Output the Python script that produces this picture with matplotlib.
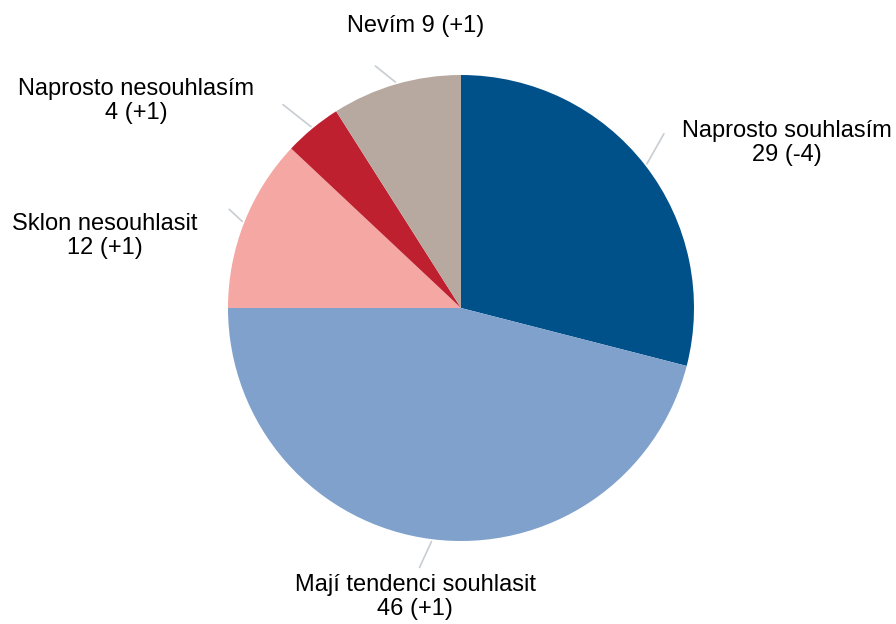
import matplotlib
matplotlib.use("Agg")
import matplotlib.pyplot as plt
import numpy as np

categories = ["Naprosto souhlasím", "Mají tendenci souhlasit", "Sklon nesouhlasit",
              "Naprosto nesouhlasím", "Nevím"]
values = [29, 46, 12, 4, 9]
changes = ["-4", "+1", "+1", "+1", "+1"]
colors = ["#00508A", "#7FA1CC", "#F4A7A3", "#BE2030", "#B8A9A0"]

plt.rcParams['font.family'] = ['Liberation Sans', 'DejaVu Sans']

W, H = 896, 624
fig = plt.figure(figsize=(W / 100, H / 100), dpi=100)
ax = fig.add_axes([0, 0, 1, 1])

cx, cy, R = 461, H - 308, 233
wedges, _ = ax.pie(values, colors=colors, startangle=90, counterclock=False,
                   center=(cx, cy), radius=R, frame=True,
                   wedgeprops=dict(linewidth=0))
ax.set_xlim(0, W)
ax.set_ylim(0, H)
ax.axis("off")

# label positions (pixel layout, from top-left) and leader offsets (px, dx, dy up)
label_pos = [(787, 143), (415, 597), (105, 236), (136, 101), (416, 26)]
leader_off = [(17, 30), (-12, -26), (-13, 12), (-28, 22), (-20, 16)]
label_text = [f"{c}\n{v} ({d})" for c, v, d in zip(categories, values, changes)]
label_text[4] = f"{categories[4]} {values[4]} ({changes[4]})"

for w, (lx, ly), (ox, oy), t in zip(wedges, label_pos, leader_off, label_text):
    ang = np.deg2rad((w.theta1 + w.theta2) / 2)
    x0, y0 = cx + R * 1.01 * np.cos(ang), cy + R * 1.01 * np.sin(ang)
    ax.plot([x0, x0 + ox], [y0, y0 + oy], color="#C8CDD2", lw=1.2,
            solid_capstyle="round")
    ax.text(lx, H - ly, t, ha="center", va="center", fontsize=17,
            linespacing=1.15, color="black")

fig.savefig("out.png", dpi=100)
